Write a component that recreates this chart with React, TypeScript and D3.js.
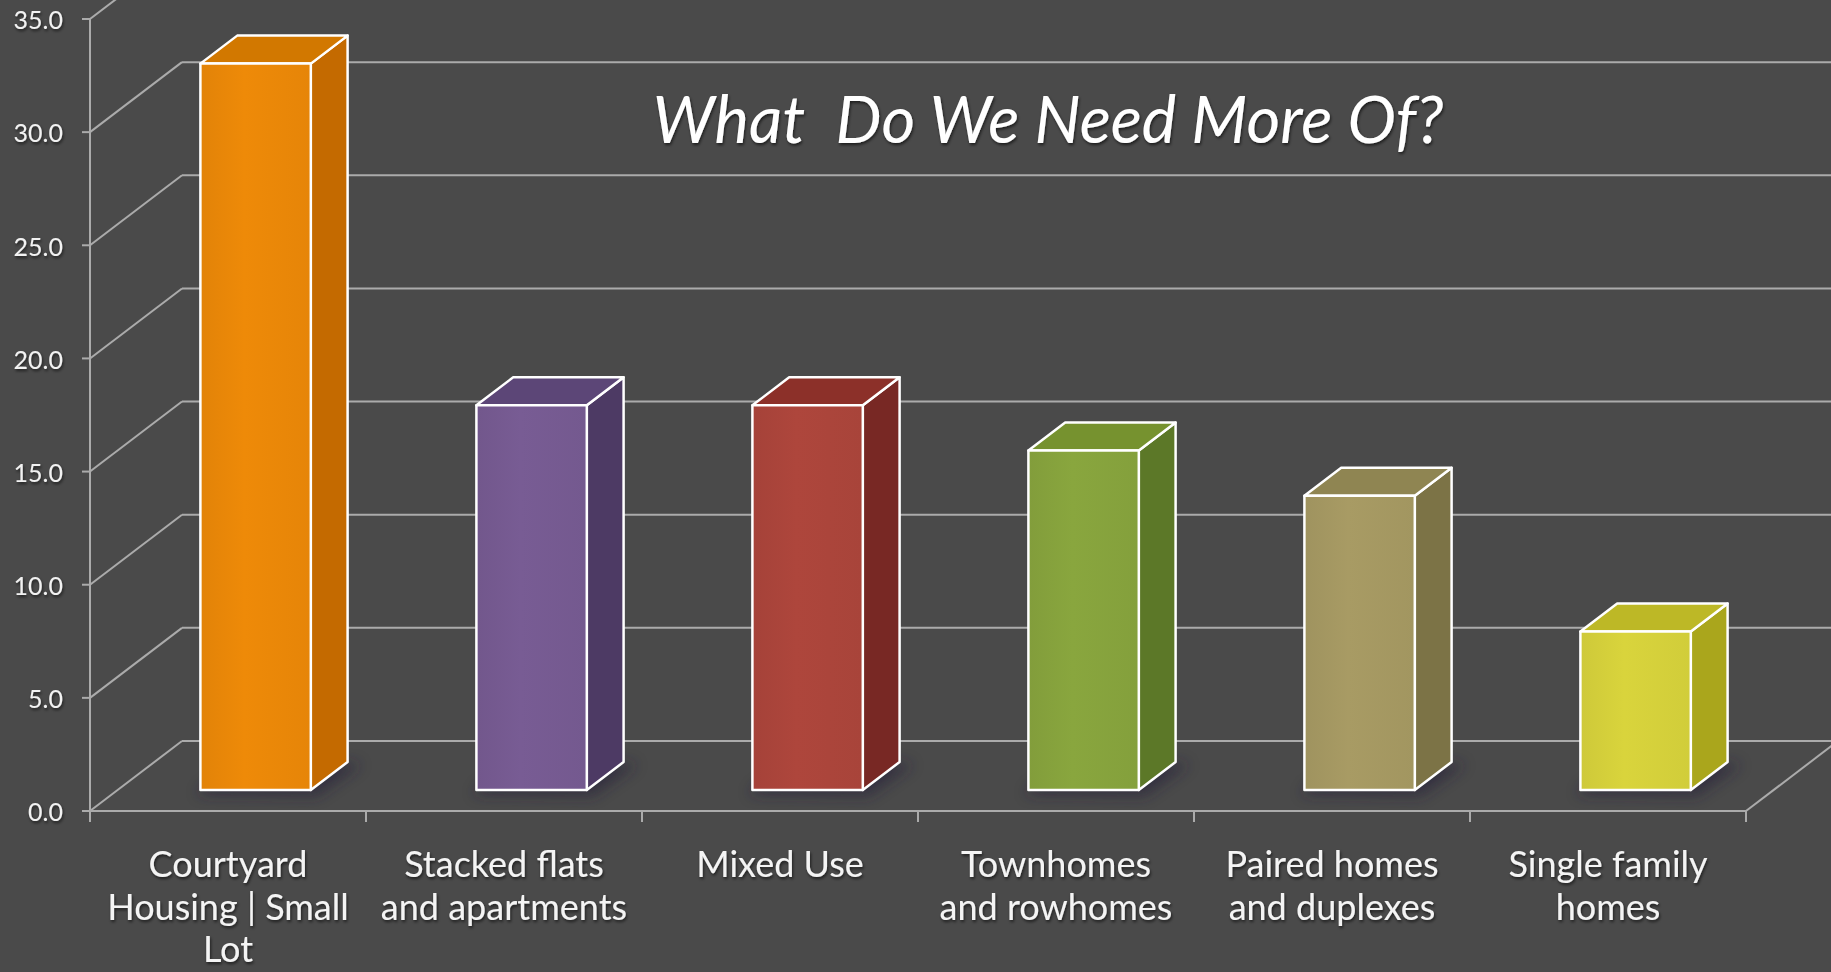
import React from 'react';
import * as d3 from 'd3';

const categories = [
  'Courtyard Housing | Small Lot',
  'Stacked flats and apartments',
  'Mixed Use',
  'Townhomes and rowhomes',
  'Paired homes and duplexes',
  'Single family homes',
];
const labelLines = [
  ['Courtyard', 'Housing | Small', 'Lot'],
  ['Stacked flats', 'and apartments'],
  ['Mixed Use'],
  ['Townhomes', 'and rowhomes'],
  ['Paired homes', 'and duplexes'],
  ['Single family', 'homes'],
];
const values = [32.1, 17.0, 17.0, 15.0, 13.0, 7.0];
const yTicks = [0, 5, 10, 15, 20, 25, 30, 35];
const frontColors = ['#ee8a08', '#785c94', '#ae463c', '#89a63e', '#a89b64', '#d9d43c'];
const topColors = ['#d27800', '#5c4677', '#8c3029', '#76922f', '#8f8552', '#bdb826'];
const sideColors = ['#c46a00', '#4d3a64', '#782824', '#5c7828', '#7c7346', '#aaa61c'];
const title = 'What  Do We Need More Of?';

const W = 1831;
const H = 972;
const DX = 92;
const DY = 70;
const F0 = 0.3;
const F1 = 0.7;
const FONT = 'Lato, "Open Sans", sans-serif';

export default function App() {
  const x = d3.scaleBand<string>().domain(categories).range([90, 1746]).paddingInner(0.6).paddingOuter(0.3);
  const y = d3.scaleLinear().domain([0, 35]).range([811, 19]);
  const y0 = y(0);
  const step = x.step();
  const bw = x.bandwidth();
  const left = 90;
  const right = 1746;
  const gridColor = '#ababab';
  const ddx = DX * (F1 - F0);
  const ddy = DY * (F1 - F0);

  return (
    <svg width={W} height={H} style={{ position: 'absolute', left: 0, top: 0, display: 'block' }}>
      <defs>
        <filter id="blur" x="-50%" y="-50%" width="200%" height="200%">
          <feGaussianBlur stdDeviation="7" />
        </filter>
        <filter id="tshadow" x="-10%" y="-10%" width="120%" height="130%">
          <feDropShadow dx="1" dy="2" stdDeviation="1.5" floodColor="#000" floodOpacity="0.6" />
        </filter>
        {frontColors.map((c, i) => (
          <linearGradient key={i} id={`fg${i}`} x1="0" x2="1" y1="0" y2="0">
            <stop offset="0" stopColor={d3.color(c)!.darker(0.15).toString()} />
            <stop offset="0.4" stopColor={c} />
            <stop offset="1" stopColor={d3.color(c)!.darker(0.1).toString()} />
          </linearGradient>
        ))}
      </defs>
      <rect x={0} y={0} width={W} height={H} fill="#4a4a4a" />

      {/* back wall gridlines and side diagonals */}
      {yTicks.map((t) => (
        <g key={t}>
          <line x1={left + DX} x2={W + 20} y1={y(t) - DY} y2={y(t) - DY} stroke={gridColor} strokeWidth={2} />
          <line x1={left} x2={left + DX} y1={y(t)} y2={y(t) - DY} stroke={gridColor} strokeWidth={2} />
          <line x1={left - 8} x2={left} y1={y(t)} y2={y(t)} stroke={gridColor} strokeWidth={2} />
        </g>
      ))}

      {/* floor */}
      <line x1={right} x2={right + DX} y1={y0} y2={y0 - DY} stroke={gridColor} strokeWidth={2} />

      {/* shadows */}
      {categories.map((c, i) => {
        const xl = (x(c) as number) + DX * F0;
        const yb = y0 - DY * F0;
        return (
          <polygon
            key={`s${i}`}
            points={`${xl - 4},${yb + 4} ${xl + bw + 6},${yb + 6} ${xl + bw + ddx + 14},${yb - ddy + 2} ${xl + ddx},${yb - ddy - 4}`}
            fill="#241c38"
            opacity={0.55}
            filter="url(#blur)"
          />
        );
      })}

      {/* bars */}
      {categories.map((c, i) => {
        const xl = (x(c) as number) + DX * F0;
        const xr = xl + bw;
        const yb = y0 - DY * F0;
        const yt = y(values[i]) - DY * F0;
        return (
          <g key={`b${i}`} stroke="#ffffff" strokeWidth={2.5} strokeLinejoin="round">
            <polygon
              points={`${xr},${yt} ${xr + ddx},${yt - ddy} ${xr + ddx},${yb - ddy} ${xr},${yb}`}
              fill={sideColors[i]}
            />
            <polygon
              points={`${xl},${yt} ${xl + ddx},${yt - ddy} ${xr + ddx},${yt - ddy} ${xr},${yt}`}
              fill={topColors[i]}
            />
            <rect x={xl} y={yt} width={bw} height={yb - yt} fill={`url(#fg${i})`} />
          </g>
        );
      })}

      {/* front axes */}
      <line x1={left} x2={right} y1={y0} y2={y0} stroke={gridColor} strokeWidth={2} />
      <line x1={left} x2={left} y1={y(35)} y2={y0 + 11} stroke={gridColor} strokeWidth={2} />
      {d3.range(categories.length + 1).map((k) => (
        <line key={`ct${k}`} x1={left + k * step} x2={left + k * step} y1={y0} y2={y0 + 11} stroke={gridColor} strokeWidth={2} />
      ))}

      {/* y tick labels */}
      {yTicks.map((t) => (
        <text
          key={`tl${t}`}
          x={63}
          y={y(t) + 4}
          textAnchor="end"
          dominantBaseline="middle"
          fontFamily={FONT}
          fontSize={25}
          fill="#f2f2f2"
          filter="url(#tshadow)"
        >
          {t.toFixed(1)}
        </text>
      ))}

      {/* category labels */}
      {categories.map((c, i) => (
        <text key={`cl${i}`} textAnchor="middle" fontFamily={FONT} fontSize={36} fill="#f4f4f4" filter="url(#tshadow)">
          {labelLines[i].map((ln, j) => (
            <tspan key={j} x={left + step * (i + 0.5)} y={877 + 42.5 * j}>
              {ln}
            </tspan>
          ))}
        </text>
      ))}

      {/* title */}
      <text
        x={1048}
        y={143}
        textAnchor="middle"
        fontFamily={FONT}
        fontStyle="italic"
        fontSize={65}
        fill="#ffffff"
        style={{ whiteSpace: 'pre' }}
        filter="url(#tshadow)"
      >
        {title}
      </text>
    </svg>
  );
}
